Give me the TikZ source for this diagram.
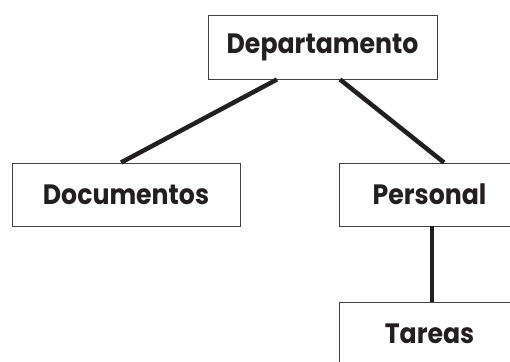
\documentclass[tikz,border=0pt]{standalone}
\usepackage{fontspec}
\setmainfont{Poppins}[BoldFont={* Bold},FakeStretch=0.9]
\usepackage{tikz}
\usetikzlibrary{positioning}
\definecolor{ink}{HTML}{231F20}

\begin{document}
\begin{tikzpicture}[x=1pt,y=-1pt,thick,
        box node/.style={rectangle,draw=ink!85,line width=0.9pt,fill=white,inner sep=0pt,
          font=\bfseries\fontsize{28}{32}\selectfont,text=ink,minimum height=63pt},
        link/.style={draw=ink,line width=4.5pt}]
        \useasboundingbox (0,0) rectangle (510,361);
        \clip (0,0) rectangle (510,361);
        \node[box node, minimum width=229pt, minimum height=64pt] (dep) at (322.5,47) {Departamento};
        \node[box node, minimum width=228pt] (doc) at (126,194.5) {Documentos};
        \node[box node, minimum width=181pt] (pers) at (429.5,194.5) {Personal};
        \node[box node, minimum width=181pt] (tar) at (429.5,333.5) {Tareas};
        \path[link]
        ([xshift=-45.5pt]dep.south) edge ([xshift=-5pt]doc.north)
        ([xshift=17.5pt]dep.south) edge ([xshift=14.5pt]pers.north)
        ([xshift=2.5pt]pers.south) edge ([xshift=2.5pt]tar.north)
        ;
        \end{tikzpicture}
\end{document}
